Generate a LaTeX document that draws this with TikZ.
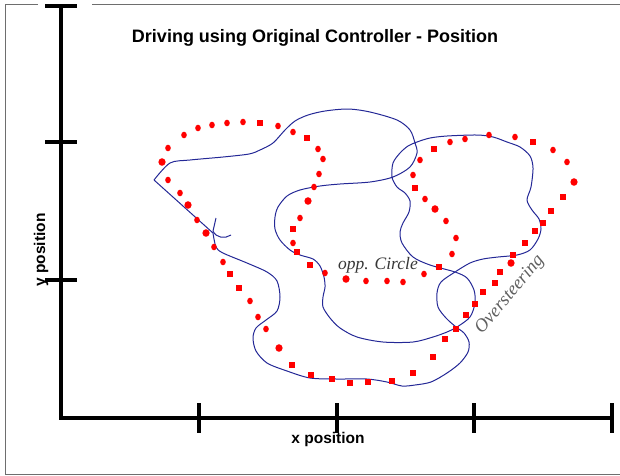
\documentclass[tikz,border=0pt]{standalone}
\usepackage{fontspec}
\setmainfont{Liberation Serif}
\setsansfont{Liberation Sans}
\usetikzlibrary{positioning}
\definecolor{rTrack}{RGB}{36,40,150}
\definecolor{rRef}{RGB}{255,0,0}
\definecolor{rFrame}{RGB}{110,110,110}
\definecolor{rNote}{RGB}{55,55,55}

\begin{document}
\begin{tikzpicture}[x=1pt,y=-1pt,
				ax/.style={line width=4.2pt,black},
				trk/.style={draw=rTrack,line width=1pt,line join=round},
				dot/.style={fill=rRef},
				ttl/.style={font=\sffamily\bfseries\fontsize{18}{20}\selectfont,inner sep=0pt},
				lbl/.style={font=\sffamily\bfseries\fontsize{15.5}{17}\selectfont,inner sep=0pt},
				note/.style={font=\itshape\fontsize{17.5}{19}\selectfont,text=rNote,inner sep=0pt}
				]
				\useasboundingbox (0,0) rectangle (620,475);
				\draw[rFrame,line width=1pt] (38,4) -- (5,4) -- (5,474) -- (620,474);
				\draw[rFrame,line width=1pt] (92,4) -- (620,4);

				\coordinate (o) at (61,418);
				\draw[ax] (61,6) -- (o) -- (612,418);
				\foreach \ty in {6,142,280} \draw[ax] (45,\ty) -- (77,\ty);
				\foreach \tx in {199,337,474,612} \draw[ax] (\tx,403) -- (\tx,433);

				\node[ttl] (title) at (315,38) {Driving using Original Controller - Position};
				\node[lbl] (xlab) at (328,439) {x position};
				\node[lbl,rotate=90] (ylab) at (41,250) {y position};

				\draw[trk] (154,180) -- (213,233) plot[smooth,tension=0.5] coordinates {
					(213,233) (216,247) (223,253) (247,263) (267,272) (277,281) (280,297) (277,311)
					(266,320) (256,328) (253,338) (256,351) (267,363) (287,371) (310,378) (337,379)
					(367,379) (387,382) (402,386) (415,385) (431,382) (447,373) (460,363) (468,352)
					(469,342) (464,333) (456,327) (446,318) (438,307) (437,293) (441,282) (455,272)
					(470,263) (483,259) (498,257) (517,255) (530,250) (538,239) (541,229) (539,219)
					(532,210) (527,200) (531,187) (533,168) (530,156) (520,147) (507,142) (493,137)
					(477,135) (447,136) (430,138) (417,142) (408,146) (400,153) (393,163) (392,177)
					(397,187) (405,193) (410,201) (409,212) (403,223) (400,232) (402,243) (413,257)
					(430,265) (455,272) (467,278) (474,290) (475,303) (470,317) (457,327) (447,332)
					(433,337) (413,342) (383,342) (357,337) (340,328) (330,318) (323,307) (323,297)
					(325,287) (324,277) (320,266) (313,259) (300,255) (290,250) (280,240) (275,229)
					(275,217) (278,207) (287,196) (300,190) (320,186) (340,184) (370,182) (393,177)
					(410,167) (417,153) (415,143) (410,130) (397,120) (370,112) (348,109) (325,111)
					(308,115) (295,121) (285,130) (273,143) (260,150) (249,154) (223,157) (190,160)
					(170,163) (154,180)};
				\draw[trk] (216,218) -- (213,231) .. controls (216,238) and (225,239) .. (231,235);

				\foreach \px/\py in {168/148,184/135,198/128,212/125,227/123,243/122,278/126,293/132,
					318/149,323/159,319/174,314/187,300/218,293/243,325/273,366/281,387/281,403/282,
					424/274,452/254,456/238,446/221,425/199,413/175,420/160,450/142,465/139,489/135,
					515/137,553/150,567/162,266/329,258/317,250/301,223/262,214/247,197/220,180/193,168/180}
					\fill[dot] (\px,\py) ellipse [x radius=2.8,y radius=3.3];
				\foreach \px/\py in {162/162,308/201,346/279,435/209,574/182,511/263,279/348,206/233,188/205}
					\fill[dot] (\px,\py) ellipse [x radius=3.6,y radius=3.8];
				\foreach \px/\py in {260/123,307/138,293/229,297/252,310/265,439/267,415/188,434/149,
					533/142,551/211,543/223,535/231,525/243,513/255,500/272,495/283,483/292,475/304,
					466/315,456/329,445/339,433/357,413/373,392/381,368/382,350/383,332/379,311/375,
					292/365,239/288,230/274}
					\fill[dot] (\px-2.8,\py-2.8) rectangle (\px+2.8,\py+2.8);
				\fill[dot] (563-3.4,197-3.4) rectangle (563+3.4,197+3.4);

				\node[note] (opp) at (378,265) {opp. Circle};
				\node[note,text=rNote!80,font=\itshape\fontsize{18.5}{20}\selectfont,rotate=50] (over) at (510,295) {Oversteering};
			\end{tikzpicture}
\end{document}
